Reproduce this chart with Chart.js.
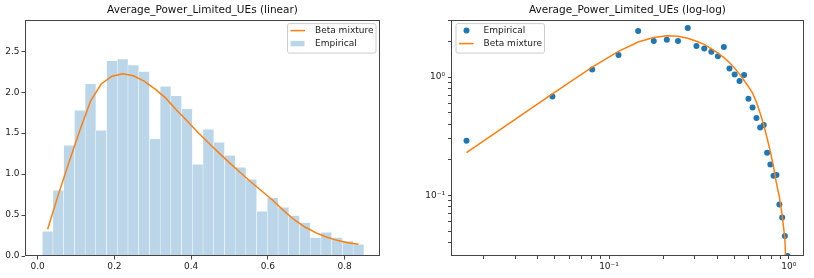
<!DOCTYPE html>
<html>
<head>
<meta charset="utf-8">
<script src="https://cdn.jsdelivr.net/npm/chart.js@4.4.0/dist/chart.umd.min.js"></script>
<style>
  html, body { margin: 0; padding: 0; background: #fff; }
  #wrap { position: relative; width: 814px; height: 278px; }
  canvas { position: absolute; top: 0; }
</style>
</head>
<body>
<div id="wrap">
  <canvas id="linChart" width="407" height="278" style="left:0"></canvas>
  <canvas id="logChart" width="407" height="278" style="left:407px"></canvas>
</div>
<script>
// ---- left panel: histogram (density) + fitted curve at bin centres
const histCenters = [0.0260, 0.0539, 0.0818, 0.1098, 0.1377, 0.1656, 0.1936, 0.2215, 0.2494, 0.2773,
                     0.3053, 0.3332, 0.3611, 0.3891, 0.4170, 0.4449, 0.4728, 0.5008, 0.5287, 0.5566,
                     0.5846, 0.6125, 0.6404, 0.6683, 0.6963, 0.7242, 0.7521, 0.7801, 0.8080, 0.8359];
const histDensity = [0.301, 0.801, 1.350, 1.777, 2.102, 1.533, 2.383, 2.403, 2.330, 2.252,
                     1.431, 2.070, 1.956, 1.797, 1.118, 1.545, 1.387, 1.228, 1.082, 0.935,
                     0.545, 0.710, 0.594, 0.492, 0.407, 0.224, 0.289, 0.224, 0.183, 0.143];
const linFit = [0.326, 0.749, 1.147, 1.533, 1.890, 2.100, 2.195, 2.224, 2.200, 2.134,
                2.040, 1.930, 1.785, 1.650, 1.510, 1.383, 1.256, 1.134, 1.017, 0.900,
                0.790, 0.680, 0.557, 0.443, 0.354, 0.285, 0.232, 0.191, 0.163, 0.143];
const linXTicks = [0.0, 0.2, 0.4, 0.6, 0.8];
const linYTicks = [0.0, 0.5, 1.0, 1.5, 2.0, 2.5];

// ---- right panel: empirical density points + fitted curve, log-log
const logX = [0.0161, 0.0484, 0.0806, 0.1129, 0.1452, 0.1774, 0.2097, 0.2419, 0.2742, 0.3065,
              0.3387, 0.3710, 0.4032, 0.4355, 0.4677, 0.5000, 0.5323, 0.5645, 0.5968, 0.6290,
              0.6613, 0.6935, 0.7258, 0.7581, 0.7903, 0.8226, 0.8548, 0.8871, 0.9194, 0.9516, 0.9839];
const logEmpirical = [0.290, 0.685, 1.160, 1.535, 2.450, 2.020, 2.070, 2.020, 2.600, 1.830,
                      1.740, 1.640, 1.500, 1.800, 1.180, 1.050, 0.925, 1.040, 0.655, 0.553,
                      0.452, 0.375, 0.394, 0.230, 0.183, 0.147, 0.149, 0.0839, 0.0651, 0.0455, 0.0308];
const logFit = [0.230, 0.722, 1.216, 1.650, 1.980, 2.160, 2.230, 2.210, 2.130, 2.010,
                1.890, 1.730, 1.600, 1.460, 1.330, 1.190, 1.060, 0.936, 0.832, 0.731,
                0.614, 0.495, 0.394, 0.304, 0.234, 0.175, 0.126, 0.0973, 0.068, 0.0432, 0.012];

const BLUE = '#1f77b4';
const ORANGE = '#ff7f0e';
const AXIS = '#444';

Chart.defaults.font.family = "'DejaVu Sans', sans-serif";
Chart.defaults.font.size = 9;
Chart.defaults.color = '#222';

const toPoints = (xs, ys) => xs.map((x, i) => ({ x: x, y: ys[i] }));

// matplotlib-like box round the axes
const frame = {
  id: 'frame',
  afterDatasetsDraw(chart) {
    const a = chart.chartArea, ctx = chart.ctx;
    ctx.save();
    ctx.strokeStyle = AXIS;
    ctx.lineWidth = 1;
    ctx.strokeRect(Math.round(a.left) + 0.5, Math.round(a.top) + 0.5,
                   Math.round(a.right - a.left) - 1, Math.round(a.bottom - a.top) - 1);
    ctx.restore();
  }
};

// legend drawn inside the axes (upper left / upper right)
const insetLegend = {
  id: 'insetLegend',
  afterDraw(chart, args, opts) {
    const ctx = chart.ctx, a = chart.chartArea;
    const w = 88.5, h = 29.5;
    const x0 = opts.side === 'right' ? a.right - 4.5 - w : a.left + 4.5;
    const y0 = a.top + 3.5;
    ctx.save();
    ctx.beginPath();
    ctx.roundRect(x0 + 0.5, y0 + 0.5, w, h, 2);
    ctx.fillStyle = 'rgba(255,255,255,0.8)';
    ctx.fill();
    ctx.strokeStyle = '#cccccc';
    ctx.lineWidth = 1;
    ctx.stroke();
    opts.order.forEach((di, row) => {
      const ds = chart.data.datasets[di];
      const cy = y0 + 7.5 + row * 13;
      const hx = x0 + 3.5;
      if (ds.type === 'bar') {
        ctx.fillStyle = ds.backgroundColor;
        ctx.fillRect(hx, cy - 2.7, 14, 5.4);
      } else if (ds.showLine === false) {
        ctx.fillStyle = ds.backgroundColor;
        ctx.beginPath();
        ctx.arc(hx + 7.5, cy, 3, 0, Math.PI * 2);
        ctx.fill();
      } else {
        ctx.strokeStyle = ds.borderColor;
        ctx.lineWidth = ds.borderWidth;
        ctx.beginPath();
        ctx.moveTo(hx, cy);
        ctx.lineTo(hx + 14.5, cy);
        ctx.stroke();
      }
      ctx.fillStyle = '#222';
      ctx.font = "9px 'DejaVu Sans', sans-serif";
      ctx.textBaseline = 'middle';
      ctx.textAlign = 'left';
      ctx.fillText(ds.label, x0 + 28, cy + 0.5);
    });
    ctx.restore();
  }
};

const tickGrid = {
  display: true, drawOnChartArea: false, drawTicks: true, offset: false,
  tickLength: 3.5, color: AXIS, lineWidth: 1
};

const titleOpts = text => ({
  display: true, text: text, fullSize: false, color: '#111',
  font: { size: 10.5, weight: 'normal' }, padding: { top: 4, bottom: 3 }
});

// left: linear
new Chart(document.getElementById('linChart'), {
  type: 'bar',
  data: {
    datasets: [{
      type: 'line',
      label: 'Beta mixture',
      data: toPoints(histCenters, linFit),
      borderColor: ORANGE,
      borderWidth: 1.5,
      pointRadius: 0,
      tension: 0,
      order: 0
    }, {
      type: 'bar',
      label: 'Empirical',
      data: toPoints(histCenters, histDensity),
      backgroundColor: 'rgba(31,119,180,0.3)',
      borderColor: '#ffffff',
      borderWidth: { top: 0.5, left: 0.5, right: 0.5, bottom: 0 },
      barPercentage: 1,
      categoryPercentage: 1,
      order: 1
    }]
  },
  options: {
    responsive: false,
    animation: false,
    devicePixelRatio: 1,
    layout: { padding: { top: 0, right: 27, bottom: 0, left: 0 } },
    plugins: {
      legend: { display: false },
      tooltip: { enabled: false },
      title: titleOpts('Average_Power_Limited_UEs (linear)'),
      insetLegend: { side: 'right', order: [0, 1] }
    },
    scales: {
      x: {
        type: 'linear', offset: false, min: -0.033, max: 0.892,
        afterBuildTicks: s => { s.ticks = linXTicks.map(v => ({ value: v })); },
        ticks: { padding: 2, autoSkip: false, maxRotation: 0, callback: v => v.toFixed(1) },
        grid: tickGrid, border: { display: false },
        afterFit: s => { s.height = 22; }
      },
      y: {
        min: 0, max: 2.886,
        afterBuildTicks: s => { s.ticks = linYTicks.map(v => ({ value: v })); },
        ticks: { padding: 2, callback: v => v.toFixed(1) },
        grid: tickGrid, border: { display: false },
        afterFit: s => { s.width = 25; }
      }
    }
  },
  plugins: [frame, insetLegend]
});

// right: log-log
const isDecade = v => { const l = Math.log10(v); return Math.abs(l - Math.round(l)) < 1e-6; };
const supDigits = { '-': '\u207B', '0': '\u2070', '1': '\u00B9', '2': '\u00B2', '3': '\u00B3' };
const decadeLabel = v => '10' + String(Math.round(Math.log10(v))).split('').map(c => supDigits[c]).join('');
const keepIntegerMantissa = s => {
  s.ticks = s.ticks.filter(t => {
    const e = Math.floor(Math.log10(t.value) + 1e-9);
    const m = t.value / Math.pow(10, e);
    return Math.abs(m - Math.round(m)) < 1e-6;
  });
};

new Chart(document.getElementById('logChart'), {
  type: 'scatter',
  data: {
    datasets: [{
      label: 'Beta mixture',
      data: toPoints(logX, logFit),
      showLine: true,
      borderColor: ORANGE,
      borderWidth: 1.5,
      pointRadius: 0,
      tension: 0,
      order: 0
    }, {
      label: 'Empirical',
      data: toPoints(logX, logEmpirical),
      showLine: false,
      backgroundColor: BLUE,
      borderColor: BLUE,
      pointRadius: 3,
      pointBorderWidth: 0,
      order: 1
    }]
  },
  options: {
    responsive: false,
    animation: false,
    devicePixelRatio: 1,
    layout: { padding: { top: 0, right: 10, bottom: 0, left: 0 } },
    plugins: {
      legend: { display: false },
      tooltip: { enabled: false },
      title: titleOpts('Average_Power_Limited_UEs (log-log)'),
      insetLegend: { side: 'left', order: [1, 0] }
    },
    scales: {
      x: {
        type: 'logarithmic', min: 0.0132, max: 1.216,
        afterBuildTicks: keepIntegerMantissa,
        ticks: { padding: 2, autoSkip: false, maxRotation: 0, callback: v => isDecade(v) ? decadeLabel(v) : '' },
        grid: Object.assign({}, tickGrid, { tickLength: 3 }), border: { display: false },
        afterFit: s => { s.height = 22; }
      },
      y: {
        type: 'logarithmic', min: 0.0308, max: 3.06,
        afterBuildTicks: keepIntegerMantissa,
        ticks: { padding: 3, autoSkip: false, callback: v => isDecade(v) ? decadeLabel(v) : '' },
        grid: Object.assign({}, tickGrid, { tickLength: 3 }), border: { display: false },
        afterFit: s => { s.width = 44; }
      }
    }
  },
  plugins: [frame, insetLegend]
});
</script>
</body>
</html>
